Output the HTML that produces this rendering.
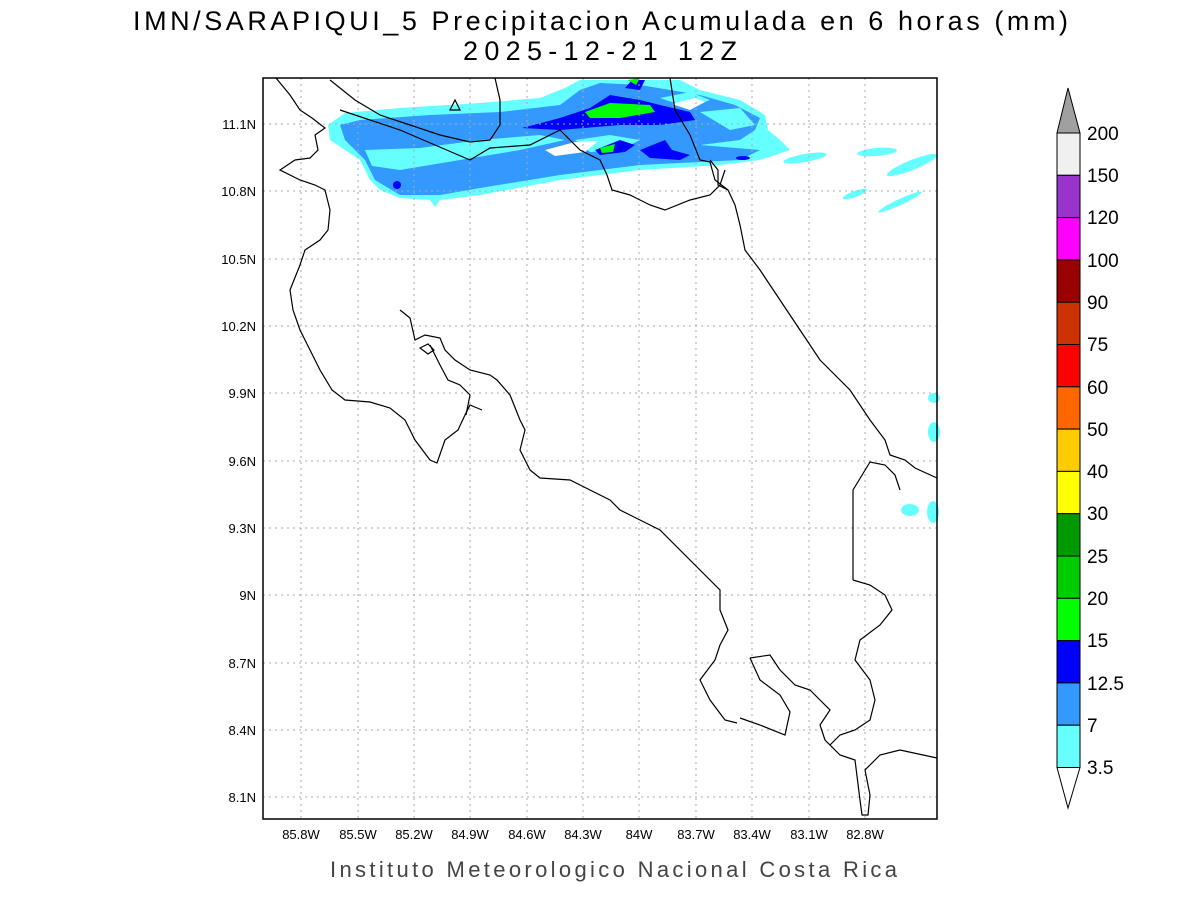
<!DOCTYPE html><html><head><style>body{margin:0;background:#fff}svg{display:block}text{font-family:"Liberation Sans",sans-serif}</style></head><body>
<svg width="1200" height="900" xmlns="http://www.w3.org/2000/svg">
<text x="133" y="30" font-size="27" textLength="935" lengthAdjust="spacing">IMN/SARAPIQUI_5 Precipitacion Acumulada en 6 horas (mm)</text>
<text x="463" y="60" font-size="27" textLength="274" lengthAdjust="spacing">2025-12-21 12Z</text>
<g fill="#66ffff" stroke="none">
<polygon points="328,125 345,113 400,108 480,103 540,98 565,88 580,80 680,80 700,90 740,100 765,115 768,130 780,140 790,150 760,160 720,165 640,170 560,180 480,195 440,200 435,207 430,200 400,198 380,190 370,180 360,160 330,140"/>
<ellipse cx="805" cy="158" rx="22" ry="4" transform="rotate(-10 805 158)"/>
<ellipse cx="877" cy="152" rx="20" ry="4" transform="rotate(-5 877 152)"/>
<ellipse cx="912" cy="165" rx="27" ry="5" transform="rotate(-22 912 165)"/>
<ellipse cx="855" cy="194" rx="13" ry="3" transform="rotate(-20 855 194)"/>
<ellipse cx="900" cy="202" rx="24" ry="3" transform="rotate(-25 900 202)"/>
<ellipse cx="934" cy="398" rx="6" ry="5"/><ellipse cx="934" cy="432" rx="6" ry="10"/>
<ellipse cx="910" cy="510" rx="9" ry="6"/><ellipse cx="933" cy="512" rx="6" ry="11"/>
</g>
<polygon fill="#3399ff" points="340,125 360,120 430,115 500,112 560,105 580,90 600,83 640,85 700,95 735,105 760,118 755,130 740,140 700,145 760,150 740,160 700,162 640,165 560,175 480,188 440,195 400,195 375,180 365,160 345,140"/>
<polygon fill="#66ffff" points="365,150 420,148 480,140 540,135 565,140 520,150 460,160 400,170 372,166"/>
<polygon fill="#66ffff" points="575,140 610,135 640,140 620,150 590,152"/>
<polygon fill="#66ffff" points="700,112 740,108 755,125 730,130"/>
<polygon fill="#66ffff" points="660,98 690,92 710,100 690,108"/>
<polygon fill="#ffffff" points="545,150 575,142 598,141 585,152 555,156"/>
<polygon fill="#ffffff" points="672,104 695,98 705,102 690,110"/>
<g fill="#0000ff"><polygon points="522,128 560,118 590,108 610,95 640,100 660,105 690,112 695,120 660,125 620,125 560,130"/>
<polygon points="595,150 620,140 635,145 625,152 600,155"/><polygon points="640,150 665,140 672,150 690,155 680,160 650,158"/>
<polygon points="625,88 632,80 645,80 640,90"/><circle cx="397" cy="185" r="4"/><ellipse cx="743" cy="158" rx="7" ry="2"/></g>
<g fill="#00ff00"><polygon points="585,112 610,103 650,105 655,112 620,118 590,118"/><polygon points="600,148 615,144 613,152 602,153"/><polygon points="628,80 640,78 636,85"/></g>
<g stroke="#aaa" stroke-dasharray="2,4" stroke-width="1">
<line x1="301" y1="78" x2="301" y2="819"/><line x1="358" y1="78" x2="358" y2="819"/><line x1="414" y1="78" x2="414" y2="819"/><line x1="470" y1="78" x2="470" y2="819"/><line x1="527" y1="78" x2="527" y2="819"/><line x1="583" y1="78" x2="583" y2="819"/><line x1="639" y1="78" x2="639" y2="819"/><line x1="696" y1="78" x2="696" y2="819"/><line x1="752" y1="78" x2="752" y2="819"/><line x1="809" y1="78" x2="809" y2="819"/><line x1="865" y1="78" x2="865" y2="819"/>
<line x1="263" y1="124" x2="937" y2="124"/><line x1="263" y1="191" x2="937" y2="191"/><line x1="263" y1="259" x2="937" y2="259"/><line x1="263" y1="326" x2="937" y2="326"/><line x1="263" y1="393" x2="937" y2="393"/><line x1="263" y1="461" x2="937" y2="461"/><line x1="263" y1="528" x2="937" y2="528"/><line x1="263" y1="595" x2="937" y2="595"/><line x1="263" y1="663" x2="937" y2="663"/><line x1="263" y1="730" x2="937" y2="730"/><line x1="263" y1="797" x2="937" y2="797"/>
</g>
<g fill="none" stroke="#000" stroke-width="1.2">
<polyline points="276,78 290,95 300,110 312,118 325,128 315,135 318,150 310,158 295,160 280,170 300,180 315,185 325,190 330,210 328,230 320,240 305,250 300,265 290,290 293,310 300,330 310,350 320,370 332,390 345,400 370,402 390,408 405,420 415,440 430,460 437,463 445,440 458,430 465,415 470,405 482,410"/>
<polyline points="400,310 410,318 415,340 425,335 440,338 445,350 455,360 470,370 490,375 497,380 510,395 520,420 525,430 520,450 530,470 540,478 570,480 590,490 610,500 620,510 640,520 660,530 690,560 710,580 720,590 720,610 728,630 720,645 715,660 700,680 710,700 725,720 737,723"/>
<polyline points="750,658 770,655 780,670 795,685 810,690 820,700 830,710 820,725 825,740 840,755 855,760 860,800 862,815 868,815 870,795 865,770 880,755 900,750 937,758"/>
<polyline points="750,658 760,680 780,695 790,712 785,735 760,725 740,718"/>
<polyline points="466,415 470,395 460,385 448,380 440,365 430,345"/>
<polygon points="420,348 428,344 434,350 428,354"/>
<polyline points="330,80 355,100 380,115 410,125 440,135 470,142 490,140 500,125 500,100 495,78"/>
<polyline points="340,110 400,130 470,160 490,148 530,145 560,130 580,150 600,160 607,175 612,190 630,195 650,205 665,210 690,200 710,195 720,185 725,170"/>
<polyline points="670,78 675,110 690,135 700,160 710,162 715,180 728,190"/>
<polyline points="710,160 718,170 718,185 728,190 735,205 740,225 745,250 760,270 780,300 800,330 820,360 835,375 850,390 870,420 885,440 890,455 905,460 915,468 937,478"/>
<polyline points="853,580 853,490 870,462 885,465 895,475 900,490"/>
<polyline points="853,580 870,585 885,595 892,610 880,625 860,640 855,660 870,680 875,700 870,720 855,730 840,735 830,745"/>
<polygon points="450,110 455,100 460,110"/>
</g>
<rect x="263" y="78" width="674" height="741" fill="none" stroke="#000" stroke-width="1.5"/>
<g font-size="13" text-anchor="end">
<text x="256" y="129">11.1N</text><text x="256" y="196">10.8N</text><text x="256" y="264">10.5N</text><text x="256" y="331">10.2N</text><text x="256" y="398">9.9N</text><text x="256" y="466">9.6N</text><text x="256" y="533">9.3N</text><text x="256" y="600">9N</text><text x="256" y="668">8.7N</text><text x="256" y="735">8.4N</text><text x="256" y="802">8.1N</text></g>
<g font-size="13" text-anchor="middle">
<text x="301" y="839">85.8W</text><text x="358" y="839">85.5W</text><text x="414" y="839">85.2W</text><text x="470" y="839">84.9W</text><text x="527" y="839">84.6W</text><text x="583" y="839">84.3W</text><text x="639" y="839">84W</text><text x="696" y="839">83.7W</text><text x="752" y="839">83.4W</text><text x="809" y="839">83.1W</text><text x="865" y="839">82.8W</text></g>
<text x="330" y="877" font-size="22" fill="#444" textLength="567" lengthAdjust="spacing">Instituto Meteorologico Nacional Costa Rica</text>
<g stroke="#000" stroke-width="1">
<polygon points="1057,133 1068,88 1080,133" fill="#a0a0a0"/>
<rect x="1057" y="133" width="23" height="42.3" fill="#f0f0f0"/>
<rect x="1057" y="175.3" width="23" height="42.3" fill="#9933cc"/>
<rect x="1057" y="217.6" width="23" height="42.3" fill="#ff00ff"/>
<rect x="1057" y="259.9" width="23" height="42.3" fill="#990000"/>
<rect x="1057" y="302.2" width="23" height="42.3" fill="#cc3300"/>
<rect x="1057" y="344.5" width="23" height="42.3" fill="#ff0000"/>
<rect x="1057" y="386.8" width="23" height="42.3" fill="#ff6600"/>
<rect x="1057" y="429.1" width="23" height="42.3" fill="#ffcc00"/>
<rect x="1057" y="471.4" width="23" height="42.3" fill="#ffff00"/>
<rect x="1057" y="513.7" width="23" height="42.3" fill="#009900"/>
<rect x="1057" y="556" width="23" height="42.3" fill="#00cc00"/>
<rect x="1057" y="598.3" width="23" height="42.3" fill="#00ff00"/>
<rect x="1057" y="640.6" width="23" height="42.3" fill="#0000ff"/>
<rect x="1057" y="682.9" width="23" height="42.3" fill="#3399ff"/>
<rect x="1057" y="725.2" width="23" height="42.3" fill="#66ffff"/>
<polygon points="1057,767.5 1068,808 1080,767.5" fill="#fff"/>
</g>
<g font-size="19">
<text x="1087" y="140">200</text><text x="1087" y="182">150</text><text x="1087" y="224">120</text><text x="1087" y="267">100</text><text x="1087" y="309">90</text><text x="1087" y="351">75</text><text x="1087" y="394">60</text><text x="1087" y="436">50</text><text x="1087" y="478">40</text><text x="1087" y="520">30</text><text x="1087" y="563">25</text><text x="1087" y="605">20</text><text x="1087" y="647">15</text><text x="1087" y="690">12.5</text><text x="1087" y="732">7</text><text x="1087" y="774">3.5</text></g>
</svg></body></html>
